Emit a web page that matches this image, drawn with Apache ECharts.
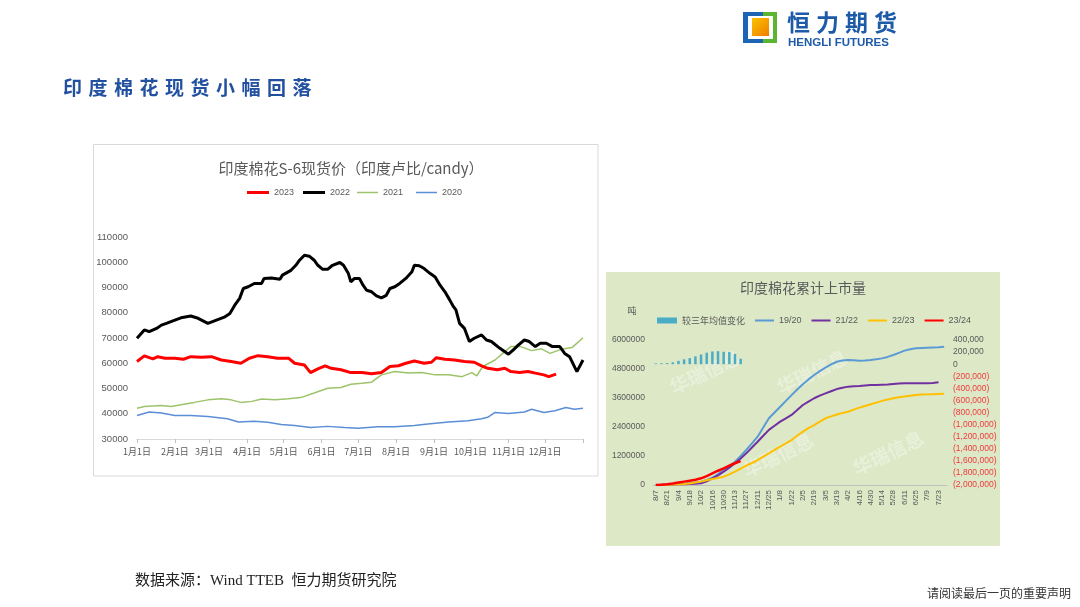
<!DOCTYPE html>
<html><head><meta charset="utf-8">
<script src="https://cdn.jsdelivr.net/npm/echarts@6/dist/echarts.min.js"></script>
<style>html,body{margin:0;padding:0;background:#fff;}#c{width:1080px;height:607px;}</style>
</head><body><div id="c"></div>
<script>
// ---------- Left chart: 印度棉花S-6现货价 (day of year, rupee/candy) ----------
const monthDays = [0, 31, 59, 90, 120, 151, 181, 212, 243, 273, 304, 334];
const monthLabels = ['1月1日','2月1日','3月1日','4月1日','5月1日','6月1日','7月1日','8月1日','9月1日','10月1日','11月1日','12月1日'];

const s2023 = [[0,60700],[6,62900],[13,61700],[17,62600],[23,62000],[31,62000],[38,61600],[44,62600],[53,62400],[61,62600],[69,61300],[77,60700],[85,60000],[92,62000],[99,63000],[107,62600],[115,62000],[124,62000],[129,60000],[137,59300],[142,56300],[148,57800],[154,59000],[159,58000],[167,57400],[175,56300],[184,56300],[192,55800],[200,56300],[207,58700],[214,59000],[220,60000],[227,60900],[235,60000],[241,60400],[245,62200],[252,61600],[260,61300],[268,60700],[276,60400],[282,59000],[287,58000],[295,57400],[301,58000],[306,56700],[313,56300],[320,56700],[326,56100],[333,55400],[337,54700],[343,55700]];
const s2022 = [[0,69900],[6,73200],[10,72500],[16,73800],[20,75100],[24,75800],[31,77100],[36,78000],[44,78700],[50,77800],[58,75800],[65,77100],[72,78400],[76,79700],[80,83000],[84,85700],[87,89600],[91,90300],[96,91600],[102,91600],[104,93600],[110,93800],[117,93300],[119,94900],[126,96800],[130,98800],[133,100800],[137,102800],[141,102400],[145,100800],[148,98800],[152,97200],[156,97200],[160,98800],[166,99900],[169,98800],[173,95500],[175,92200],[178,93600],[182,93600],[185,90900],[188,88900],[192,88300],[196,86700],[200,85900],[204,86900],[207,89600],[211,90300],[215,91600],[220,93600],[225,96200],[227,98800],[231,98600],[235,97500],[240,95500],[244,94200],[248,90900],[252,88300],[256,85000],[259,82400],[261,81100],[264,75800],[268,73800],[272,68600],[276,69900],[282,71200],[286,69200],[290,68600],[297,65900],[304,63600],[308,65300],[312,67200],[317,69200],[321,68600],[326,66600],[330,67900],[335,67900],[340,66600],[346,66600],[350,63900],[354,62600],[360,56700],[365,61300]];
const s2021 = [[0,42200],[6,42900],[20,43300],[28,42900],[36,43600],[47,44500],[58,45500],[69,45900],[77,45500],[85,44500],[94,44900],[102,45800],[113,45500],[124,45900],[134,46400],[145,48200],[156,50100],[167,50400],[175,51700],[184,52100],[192,52500],[200,55400],[211,56700],[222,56100],[233,56300],[244,55400],[255,55400],[266,54700],[274,56300],[278,55000],[283,58700],[293,61300],[301,64600],[306,66600],[314,66600],[323,65000],[331,65700],[338,63900],[347,65500],[356,66200],[365,70100]];
const s2020 = [[0,39300],[10,40700],[20,40300],[31,39300],[44,39300],[58,38900],[74,38000],[83,36700],[96,37000],[107,36600],[118,35700],[129,35300],[142,34600],[156,35000],[170,34600],[181,34300],[197,34900],[211,34900],[227,35300],[238,35900],[255,36700],[271,37200],[282,38000],[287,38600],[293,40500],[304,40100],[317,40700],[323,41800],[333,40500],[342,41200],[351,42500],[358,41800],[365,42200]];

// ---------- Right chart: 印度棉花累计上市量 (weekly, tonnes) ----------
const weeks = ['8/7','8/14','8/21','8/28','9/4','9/11','9/18','9/25','10/2','10/9','10/16','10/23','10/30','11/6','11/13','11/20','11/27','12/4','12/11','12/18','12/25','1/1','1/8','1/15','1/22','1/29','2/5','2/12','2/19','2/26','3/5','3/12','3/19','3/26','4/2','4/9','4/16','4/23','4/30','5/7','5/14','5/21','5/28','6/4','6/11','6/18','6/25','7/2','7/9','7/16','7/23','7/30'];
const diffVs3yr = [12000,15000,18000,30000,55000,80000,100000,130000,160000,190000,210000,215000,205000,200000,170000,90000];
const y1920 = [0,10000,25000,35000,45000,55000,70000,100000,140000,210000,300000,450000,620000,790000,965000,1200000,1450000,1720000,2000000,2380000,2760000,3000000,3240000,3480000,3720000,3950000,4170000,4370000,4550000,4710000,4860000,4990000,5100000,5150000,5170000,5160000,5140000,5150000,5170000,5200000,5240000,5300000,5380000,5470000,5560000,5620000,5660000,5670000,5680000,5690000,5700000,5720000];
const y2122 = [0,5000,15000,25000,30000,35000,45000,55000,75000,150000,276000,400000,550000,720000,900000,1100000,1310000,1550000,1790000,2040000,2280000,2450000,2620000,2760000,2900000,3100000,3310000,3450000,3590000,3700000,3790000,3880000,3970000,4020000,4070000,4090000,4100000,4120000,4140000,4140000,4150000,4160000,4180000,4200000,4210000,4210000,4210000,4210000,4210000,4220000,4250000];
const y2223 = [0,5000,10000,20000,30000,40000,60000,100000,140000,200000,250000,290000,345000,440000,550000,680000,800000,910000,1030000,1170000,1310000,1450000,1590000,1720000,1860000,2040000,2210000,2350000,2480000,2620000,2760000,2840000,2920000,2980000,3030000,3120000,3200000,3270000,3340000,3410000,3480000,3540000,3590000,3630000,3660000,3690000,3720000,3740000,3750000,3760000,3770000,3780000];
const y2324 = [0,15000,30000,60000,100000,140000,180000,220000,276000,370000,480000,590000,690000,800000,900000,990000];

const titleChars = '印度棉花现货小幅回落'.split('');
const logoChars = '恒力期货'.split('');

const GRAY = '#595959';
const fmt = v => Math.abs(v).toLocaleString('en-US');

const graphics = [
  {type:'rect', z:0, shape:{x:93.5,y:144.5,width:504.5,height:331.5}, style:{fill:'#fff',stroke:'#d9d9d9',lineWidth:1}},
  {type:'rect', z:0, shape:{x:606,y:272,width:394,height:274}, style:{fill:'#dde8c7'}},
  // logo icon
  {type:'rect', z:1, shape:{x:743,y:12,width:20,height:31}, style:{fill:'#1c64b4'}},
  {type:'rect', z:1, shape:{x:763,y:12,width:14,height:31}, style:{fill:'#5cb531'}},
  {type:'rect', z:1, shape:{x:748,y:16,width:25,height:23}, style:{fill:'#fff'}},
  {type:'rect', z:2, shape:{x:752,y:18,width:17,height:18}, style:{fill:new echarts.graphic.LinearGradient(0,0,1,1,[{offset:0,color:'#f9c400'},{offset:1,color:'#f07d00'}])}},
  {type:'text', z:2, x:788, y:43, style:{text:'HENGLI FUTURES', font:'bold 11.5px "Liberation Sans", Arial', fill:'#1d5aa8', textVerticalAlign:'middle'}},
  // unit
  {type:'text', z:3, x:632, y:311, style:{text:'吨', font:'9px "Noto Sans CJK SC"', fill:GRAY, textAlign:'center', textVerticalAlign:'middle'}},
  // footer
  {type:'text', z:2, x:135, y:581, style:{text:'数据来源：Wind TTEB  恒力期货研究院', font:'15px "Liberation Serif", "Noto Sans CJK SC"', fill:'#222', textVerticalAlign:'middle'}},
  {type:'text', z:2, x:1071, y:593, style:{text:'请阅读最后一页的重要声明', font:'12px "Noto Sans CJK SC"', fill:'#333', textAlign:'right', textVerticalAlign:'middle'}}
];
titleChars.forEach((ch,i)=>graphics.push({type:'text', z:2, x:63+i*25.5, y:88, style:{text:ch, font:'bold 19px "Noto Sans CJK SC"', fill:'#2250a0', textVerticalAlign:'middle'}}));
logoChars.forEach((ch,i)=>graphics.push({type:'text', z:2, x:787+i*29, y:22, style:{text:ch, font:'bold 23px "Noto Sans CJK SC"', fill:'#1d5aa8', textVerticalAlign:'middle'}}));
[[705,372],[812,372],[778,455],[888,453]].forEach(p=>graphics.push({type:'text', z:1, x:p[0], y:p[1], rotation:Math.PI/7, style:{text:'华瑞信息', font:'bold 19px "Noto Sans CJK SC"', fill:'rgba(255,255,255,0.35)', textAlign:'center', textVerticalAlign:'middle'}}));

const legText = {fontSize:9, color:GRAY};
const chart = echarts.init(document.getElementById('c'), null, {renderer:'canvas'});
chart.setOption({
  animation:false,
  backgroundColor:'#fff',
  textStyle:{fontFamily:'"Liberation Sans", "Noto Sans CJK SC", sans-serif'},
  graphic: graphics,
  title:[
    {text:'印度棉花S-6现货价（印度卢比/candy）', left:346, top:156, textAlign:'center',
     textStyle:{fontSize:15, fontWeight:'normal', color:GRAY, fontFamily:'"Noto Sans CJK SC"'}},
    {text:'印度棉花累计上市量', left:798, top:276, textAlign:'center',
     textStyle:{fontSize:14, fontWeight:'normal', color:GRAY, fontFamily:'"Noto Sans CJK SC"'}}
  ],
  legend:[
    {data:[{name:'2023',icon:'rect'},{name:'2022',icon:'rect'}], left:242, top:183, itemWidth:22, itemHeight:3, itemGap:9, textStyle:legText},
    {data:[{name:'2021',icon:'rect'},{name:'2020',icon:'rect'}], left:352, top:183, itemWidth:21, itemHeight:1.5, itemGap:13, textStyle:legText},
    {data:[{name:'较三年均值变化',icon:'rect'}], left:652, top:311, itemWidth:20, itemHeight:6, textStyle:{fontSize:9, color:GRAY, fontFamily:'"Noto Sans CJK SC"'}},
    {data:[{name:'19/20',icon:'rect'},{name:'21/22',icon:'rect'},{name:'22/23',icon:'rect'},{name:'23/24',icon:'rect'}], left:750, top:311, itemWidth:19, itemHeight:2, itemGap:10, textStyle:legText}
  ],
  grid:[
    {left:137, right:497, top:237, bottom:168},
    {left:653, right:133, top:340, bottom:122}
  ],
  xAxis:[
    {type:'value', gridIndex:0, min:0, max:365,
     axisLine:{show:true, lineStyle:{color:'#d9d9d9'}},
     axisTick:{show:true, customValues:monthDays.concat([365]), length:4, lineStyle:{color:'#bfbfbf'}},
     axisLabel:{customValues:monthDays, fontSize:9, color:GRAY, margin:8, fontFamily:'"Noto Sans CJK SC"',
       formatter:v=>{const i=monthDays.indexOf(v); return i>=0?monthLabels[i]:'';}},
     splitLine:{show:false}},
    {type:'category', gridIndex:1, data:weeks, boundaryGap:true,
     axisLine:{show:true, lineStyle:{color:'#bfbfbf'}}, axisTick:{show:false},
     axisLabel:{interval:1, rotate:90, fontSize:8, color:GRAY, margin:5}}
  ],
  yAxis:[
    {type:'value', gridIndex:0, min:30000, max:110000, interval:10000,
     axisLine:{show:false}, axisTick:{show:false}, splitLine:{show:false},
     axisLabel:{fontSize:9.5, color:GRAY, margin:9, formatter:v=>String(v)}},
    {type:'value', gridIndex:1, min:0, max:6000000, interval:1200000,
     axisLine:{show:false}, axisTick:{show:false}, splitLine:{show:false},
     axisLabel:{fontSize:8.5, color:GRAY, margin:8, formatter:v=>String(v)}},
    {type:'value', gridIndex:1, position:'right', min:-2000000, max:400000, interval:200000,
     axisLine:{show:false}, axisTick:{show:false}, splitLine:{show:false},
     axisLabel:{fontSize:8.5, margin:6, color:v=>v<0?'#ee3b3b':GRAY,
       formatter:v=>v<0?'('+fmt(v)+')':fmt(v)}}
  ],
  series:[
    {name:'2020', type:'line', xAxisIndex:0, yAxisIndex:0, data:s2020, symbol:'none', z:3, lineStyle:{color:'#5b8ed6', width:1.5}, itemStyle:{color:'#5b8ed6'}},
    {name:'2021', type:'line', xAxisIndex:0, yAxisIndex:0, data:s2021, symbol:'none', z:3, lineStyle:{color:'#9dc36a', width:1.5}, itemStyle:{color:'#9dc36a'}},
    {name:'2023', type:'line', xAxisIndex:0, yAxisIndex:0, data:s2023, symbol:'none', z:4, lineStyle:{color:'#ff0000', width:3}, itemStyle:{color:'#ff0000'}},
    {name:'2022', type:'line', xAxisIndex:0, yAxisIndex:0, data:s2022, symbol:'none', z:5, lineStyle:{color:'#000000', width:3}, itemStyle:{color:'#000000'}},
    {name:'较三年均值变化', type:'bar', xAxisIndex:1, yAxisIndex:2, data:diffVs3yr, barWidth:2.5, itemStyle:{color:'#4bacc6'}},
    {name:'19/20', type:'line', xAxisIndex:1, yAxisIndex:1, data:y1920, symbol:'none', z:3, lineStyle:{color:'#5b9bd5', width:2}, itemStyle:{color:'#5b9bd5'}},
    {name:'21/22', type:'line', xAxisIndex:1, yAxisIndex:1, data:y2122, symbol:'none', z:3, lineStyle:{color:'#7030a0', width:2}, itemStyle:{color:'#7030a0'}},
    {name:'22/23', type:'line', xAxisIndex:1, yAxisIndex:1, data:y2223, symbol:'none', z:3, lineStyle:{color:'#ffc000', width:2}, itemStyle:{color:'#ffc000'}},
    {name:'23/24', type:'line', xAxisIndex:1, yAxisIndex:1, data:y2324, symbol:'none', z:4, lineStyle:{color:'#ff0000', width:2.5}, itemStyle:{color:'#ff0000'}}
  ]
});
</script></body></html>
